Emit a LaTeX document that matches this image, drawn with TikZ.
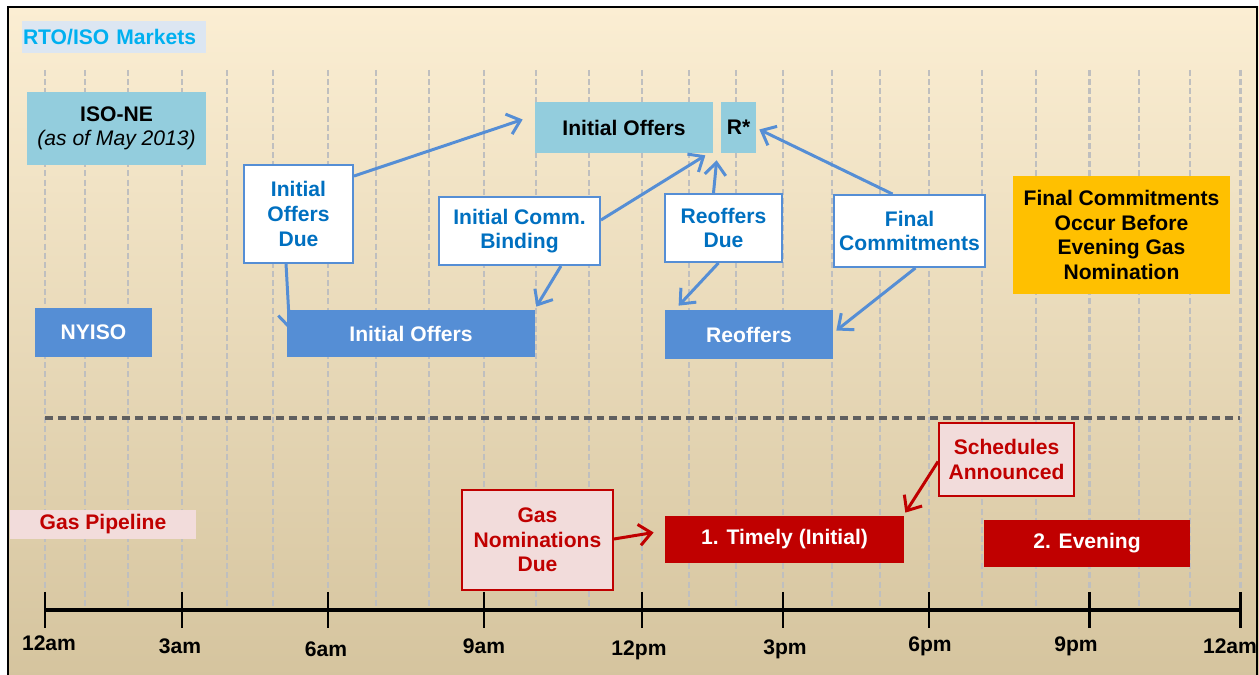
\documentclass[tikz,border=0pt]{standalone}
\usepackage{fontspec}
\setmainfont{Liberation Sans}
\usetikzlibrary{arrows.meta}
\definecolor{isoblue}{HTML}{93CDDD}
\definecolor{nyblue}{HTML}{558ED5}
\definecolor{duetext}{HTML}{0070C0}
\definecolor{rtotext}{HTML}{00B0F0}
\definecolor{rtofill}{HTML}{DCE6F2}
\definecolor{gasred}{HTML}{C00000}
\definecolor{gaspink}{HTML}{F2DCDB}
\definecolor{noteorange}{HTML}{FFC000}
\definecolor{gridgray}{HTML}{BFBFBF}
\definecolor{sepgray}{HTML}{5F5F5F}
\definecolor{bgtop}{RGB}{251,238,211}
\definecolor{bgmid}{RGB}{242,235,214}
\definecolor{bgbottom}{RGB}{213,196,158}
\pgfdeclarelayer{bg}
\pgfdeclarelayer{mid}
\pgfsetlayers{bg,mid,main}
\begin{document}
\begin{tikzpicture}
[x=0.02cm,y=-0.02cm,%
  every node/.style={font=\fontsize{12}{14}\selectfont\bfseries,inner sep=0pt,align=center},%
  sz/.style 2 args={minimum width=#1*0.02cm,minimum height=#2*0.02cm},%
  isobox/.style={fill=isoblue},%
  nybox/.style={fill=nyblue,text=white},%
  duebox/.style={draw=nyblue,line width=1.1pt,fill=white,text=duetext},%
  gasbox/.style={fill=gasred,text=white},%
  nombox/.style={draw=gasred,line width=1.1pt,fill=gaspink,text=gasred},%
  conn/.style={draw=nyblue,line width=1.7pt,-{Straight Barb[length=7pt,width=12pt]}},%
  gasconn/.style={conn,draw=gasred},%
  grid/.style={draw=gridgray,line width=1.3pt,dash pattern=on 3.4pt off 1.8pt}]
\useasboundingbox (0,0) rectangle (1259,675);
\begin{pgfonlayer}{bg}
\fill[top color=bgtop,middle color=bgmid,bottom color=bgbottom] (8,7) rectangle (1259,680);
\draw[black,line width=1pt] (8,7) rectangle (1257,690);
% hour grid
\foreach \gx in {85,128,227,273,376,429,536,589,689,736,832,880,982,1036,1139,1190}
  \draw[grid] (\gx,70) -- (\gx,608);
\foreach \gx in {45,182,328,484,642,783,929,1089,1240}
  \draw[grid,line width=1.7pt] (\gx,70) -- (\gx,590);
\draw[sepgray,line width=1.9pt,dash pattern=on 4.5pt off 2.8pt] (45,418) -- (1240,418);
% time axis
\draw[black,line width=2.2pt] (45,610) -- (1240,610);
\foreach \tx/\lx/\ly/\lab in {45/49/643/12am,182/180/646/3am,328/326/649/6am,484/484/646/9am,
  642/639/650/12pm,783/785/649/3pm,929/930/646/6pm,1089/1076/646/9pm,1240/1230/646/12am}
{
  \draw[black,line width=1.7pt] (\tx,592) -- (\tx,628);
  \node (lab\tx) at (\lx,\ly) {\lab};
}
\end{pgfonlayer}
% RTO/ISO markets
\node[fill=rtofill,text=rtotext,minimum height=0.64cm,text width=3.64cm,inner xsep=0.02cm,align=left]
  (rto) at (114,37) {RTO/ISO Markets};
\node[isobox,sz={179}{73}] (isone) at (116.5,128.5) {ISO-NE\\{\mdseries\itshape (as of May 2013)}};
\node[isobox,sz={178}{51}] (iotop) at (624,127.5) {Initial Offers};
\node[isobox,sz={35}{51}] (rstar) at (738.5,127.5) {R*};
\node[duebox,sz={109}{98}] (iodue) at (298.5,214) {Initial\\Offers\\Due};
\node[duebox,sz={161}{68}] (icb) at (519.5,231) {Initial Comm.\\Binding};
\node[duebox,sz={117}{68}] (rodue) at (723.5,228) {Reoffers\\Due};
\node[duebox,sz={151}{72}] (fc) at (909.5,231) {Final\\Commitments};
\node[fill=noteorange,sz={217}{118}] (note) at (1121.5,235)
  {Final Commitments\\Occur Before\\Evening Gas\\Nomination};
\node[nybox,sz={117}{49}] (nyiso) at (93.5,332.5) {NYISO};
\node[nybox,sz={248}{47}] (iobot) at (411,333.5) {Initial Offers};
\node[nybox,sz={168}{49}] (robot) at (749,334.5) {Reoffers};
% gas pipeline
\node[fill=gaspink,text=gasred,sz={186}{29}] (gas) at (103,524.5) {Gas Pipeline};
\node[nombox,sz={151}{100}] (gnd) at (537.5,540) {Gas\\Nominations\\Due};
\node[nombox,sz={135}{73}] (sched) at (1006.5,459.5) {Schedules\\Announced};
\node[gasbox,sz={239}{47}] (timely) at (784.5,539.5) {1. Timely (Initial)};
\node[gasbox,sz={206}{47}] (evening) at (1087,543.5) {2. Evening};
% connectors
\draw[conn] ([shift={(0,12)}]iodue.north east) -- ([shift={(-12,-8)}]iotop.west);
\begin{pgfonlayer}{mid}
\draw[conn] ([shift={(43,0)}]iodue.south west) -- ([shift={(3,20)}]iobot.north west);
\end{pgfonlayer}
\draw[conn] ([shift={(0,-11)}]icb.east) -- ([shift={(-8,2)}]iotop.south east);
\draw[conn] ([shift={(-40,0)}]icb.south east) -- ([shift={(1,-3)}]iobot.north east);
\draw[conn] ([shift={(-10,0)}]rodue.north) -- ([shift={(-4,7)}]rstar.south west);
\draw[conn] ([shift={(-5,0)}]rodue.south) -- ([shift={(14,-4)}]robot.north west);
\draw[conn] ([shift={(-17,0)}]fc.north) -- ([shift={(3,2)}]rstar.east);
\draw[conn] ([shift={(6,0)}]fc.south) -- ([shift={(3,-4)}]robot.east);
\draw[gasconn] ([shift={(0,-1)}]gnd.east) -- ([shift={(-11,-7)}]timely.west);
\draw[gasconn] ([shift={(0,2)}]sched.west) -- ([shift={(1,-3)}]timely.north east);
\end{tikzpicture}
\end{document}
